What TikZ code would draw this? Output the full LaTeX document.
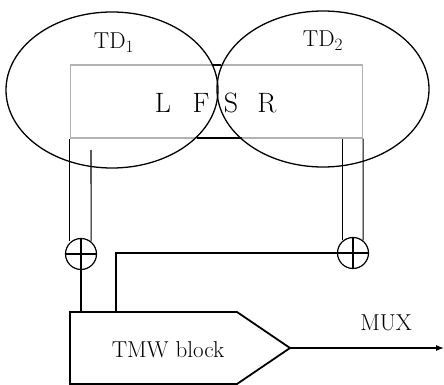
\documentclass[tikz,border=0pt]{standalone}
\usetikzlibrary{arrows.meta,positioning,calc,shapes.geometric}
\tikzset{
  zona/.style    = {draw, ellipse, line width=1.3pt, minimum width=212pt,
                    minimum height=156pt, inner sep=0pt},
  marco/.style   = {draw=gray!60, line width=1.2pt, minimum width=292pt,
                    minimum height=73pt, inner sep=0pt},
  sumador/.style = {draw, circle, line width=1.2pt, minimum size=31pt,
                    inner sep=0pt},
  bloque/.style  = {draw, line width=1.8pt, line join=miter},
  linea/.style   = {line width=1.1pt},
  flecha/.style  = {-{Latex[length=8pt,width=6pt]}, line width=1.1pt},
  etq/.style     = {font=\fontsize{23}{26}\selectfont, inner sep=0pt},
  letra/.style   = {font=\fontsize{28}{32}\selectfont, inner sep=0pt},
}
\begin{document}
\begin{tikzpicture}[x=1pt, y=-1pt]
  \useasboundingbox (0,0) rectangle (444,385);
  % zonas y marco
  \node[marco] (lfs) at (216.5,101.5) {};
  \node[zona] (td1) at (112,90) {};
  \node[zona] (td2) at (323,89) {};
  \node[etq] (lbl1) at (114,43) {TD$_1$};
  \node[etq] (lbl2) at (323,41) {TD$_2$};
  \foreach \ch/\x in {L/163,F/201,S/231,R/267}
    \node[letra] (let-\ch) at (\x,103) {\ch};
  \draw[line width=1.6pt] (197,138) -- (242,138);
  \draw[line width=1.6pt] (213,65) -- (221,65);
  % sumadores
  \node[sumador] (sum1) at (81,254) {};
  \node[sumador] (sum2) at (353,253) {};
  \foreach \s in {sum1,sum2}
    \draw[linea] (\s.north) -- (\s.south) (\s.west) -- (\s.east);
  \coordinate (ent1) at (91,150);
  % bloque TMW
  \draw[bloque] (70,312) coordinate (tmw-nw) -- (237,312) -- (290,348)
    coordinate (tmw-e) -- (237,384) -- (70,384) -- cycle;
  \node[etq] (tmw) at (168,350) {TMW block};
  \coordinate (out) at (444,348);
  \node[etq] (mux) at (386,323) {MUX};
  % conexiones
  \draw[linea] (lfs.south west) -- (lfs.south west |- sum1.129);
  \draw[linea] (ent1) -- (sum1.51);
  \draw[linea] (lfs.south east) -- (sum2.51);
  \draw[linea] (sum2.129 |- lfs.south) -- (sum2.129);
  \draw[linea] (sum1.south) -- (sum1.south |- tmw-nw);
  \draw[linea] (sum2.west) -| (116,0 |- tmw-nw);
  \draw[flecha] (tmw-e) -- (out);
\end{tikzpicture}
\end{document}
